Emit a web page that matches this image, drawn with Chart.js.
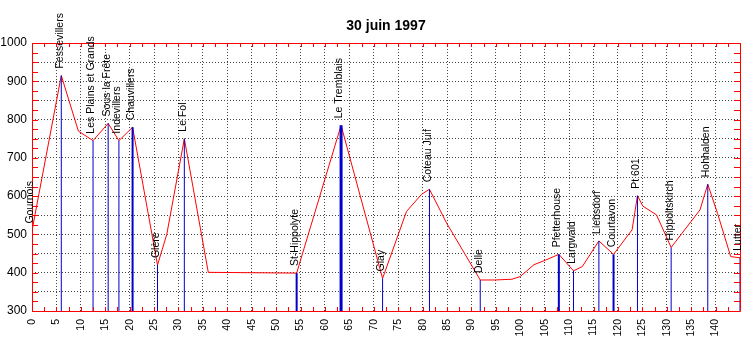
<!DOCTYPE html>
<html>
<head>
<meta charset="utf-8">
<script src="https://cdn.jsdelivr.net/npm/chart.js@4"></script>
<style>
body { margin: 0; background: #fff; }
#wrap { width: 747px; height: 343px; }
</style>
</head>
<body>
<div id="wrap"><canvas id="profileChart"></canvas></div>
<script>
// route profile (km, altitude)
var profileKm  = [0, 6.0, 9.5, 12.5, 15.6, 17.8, 20.6, 25.7, 27.6, 31.2, 36.1, 54.2, 63.3, 71.8, 76.7, 79.8, 81.4, 84.9, 91.8, 94.8, 98.3, 100.0, 102.8, 105.2, 107.9, 110.9, 112.7, 116.1, 119.1, 122.9, 124.0, 125.1, 127.9, 130.9, 136.8, 138.4, 140.4, 143.1, 145];
var profileAlt = [510, 915, 770, 745, 790, 745, 780, 420, 500, 750, 401, 399, 785, 385, 560, 605, 618, 530, 381, 381, 383, 390, 421, 433, 448, 405, 416, 483, 448, 512, 601, 574, 551, 466, 564, 631, 555, 442, 439];

// named places
var placeNames = ['Gournois', 'Fessevillers', 'Les Plains et Grands', 'Sous la Frête', 'Indevillers', 'Chauvillers', 'Glère', 'Le Fol', 'St-Hippolyte', 'Le Tremblais', 'Glay', 'Coteau Juif', 'Delle', 'Pfetterhouse', 'Largwald', 'Liebsdorf', 'Courtavon', 'Pt 601', 'Hippoltskirch', 'Hohhalden', 'Lutter'];
var placeKm  = [0, 6.0, 12.5, 15.6, 17.8, 20.6, 25.7, 31.2, 54.2, 63.3, 71.8, 81.4, 91.8, 107.9, 110.9, 116.1, 119.1, 124.0, 130.9, 138.4, 145];
var placeAlt = [510, 915, 745, 790, 745, 780, 420, 750, 399, 785, 385, 618, 381, 448, 405, 483, 448, 601, 466, 631, 439];

var chartTitle = '30 juin 1997';
var xMin = 0, xMax = 145, yMin = 300, yMax = 1000;

// line widths for the heavier markers
var heavyLines = { 'Chauvillers': 2, 'St-Hippolyte': 2, 'Le Tremblais': 3, 'Pfetterhouse': 2, 'Courtavon': 2 };

var RED = '#ff0000';
var BLUE = '#0000cc';

function buildDatasets() {
    var sets = [];
    var pts = [];
    for (var i = 0; i < profileKm.length; i++) {
        pts.push({ x: profileKm[i], y: profileAlt[i] });
    }
    sets.push({
        data: pts,
        showLine: true,
        borderColor: RED,
        borderWidth: 1,
        pointRadius: 0,
        order: 1
    });
    for (var j = 0; j < placeNames.length; j++) {
        sets.push({
            data: [{ x: placeKm[j], y: yMin }, { x: placeKm[j], y: placeAlt[j] }],
            showLine: true,
            borderColor: BLUE,
            borderWidth: heavyLines[placeNames[j]] || 1,
            pointRadius: 0,
            order: 0
        });
    }
    return sets;
}

var framePlugin = {
    id: 'frame',
    afterDraw: function(chart) {
        var ctx = chart.ctx;
        var a = chart.chartArea;
        var xs = chart.scales.x, ys = chart.scales.y;
        ctx.save();

        // red frame and inward ticks
        ctx.strokeStyle = RED;
        ctx.lineWidth = 1;
        ctx.beginPath();
        ctx.rect(Math.round(a.left) + 0.5, Math.round(a.top) + 0.5, Math.round(a.right - a.left), Math.round(a.bottom - a.top));
        for (var v = xMin; v <= xMax; v += 2.5) {
            var px = Math.round(xs.getPixelForValue(v)) + 0.5;
            ctx.moveTo(px, a.bottom); ctx.lineTo(px, a.bottom - 4);
            ctx.moveTo(px, a.top); ctx.lineTo(px, a.top + 4);
        }
        for (var w = yMin; w <= yMax; w += 25) {
            var py = Math.round(ys.getPixelForValue(w)) + 0.5;
            ctx.moveTo(a.left, py); ctx.lineTo(a.left + 6, py);
            ctx.moveTo(a.right, py); ctx.lineTo(a.right - 6, py);
        }
        ctx.stroke();

        // place names, rotated, above each marker
        ctx.fillStyle = '#000';
        ctx.font = '10.5px "Liberation Sans", Arial, sans-serif';
        ctx.textAlign = 'left';
        ctx.textBaseline = 'middle';
        for (var i = 0; i < placeNames.length; i++) {
            var lx = xs.getPixelForValue(placeKm[i]) - 1.5;
            var ly = ys.getPixelForValue(placeAlt[i]) - 7;
            ctx.save();
            ctx.translate(lx, ly);
            ctx.rotate(-Math.PI / 2);
            ctx.fillText(placeNames[i], 0, 0);
            ctx.restore();
        }

        // title
        ctx.font = 'bold 14px "Liberation Sans", Arial, sans-serif';
        ctx.textAlign = 'center';
        ctx.textBaseline = 'alphabetic';
        ctx.fillText(chartTitle, (a.left + a.right) / 2, 30);
        ctx.restore();
    }
};

function renderChart() {
    var ctx = document.getElementById('profileChart').getContext('2d');
    Chart.defaults.font.family = '"Liberation Sans", Arial, sans-serif';
    Chart.defaults.color = '#000';
    var myChart = new Chart(ctx, {
        type: 'scatter',
        data: { datasets: buildDatasets() },
        options: {
            responsive: true,
            maintainAspectRatio: false,
            animation: false,
            devicePixelRatio: 1,
            layout: { padding: { top: 43, right: 7, left: 0, bottom: 0 } },
            plugins: {
                legend: { display: false },
                tooltip: { enabled: false }
            },
            scales: {
                x: {
                    type: 'linear',
                    min: xMin,
                    max: xMax,
                    afterFit: function(s) { s.height = 32; s.paddingLeft = 0; s.paddingRight = 0; },
                    border: { display: false, dash: [1, 2] },
                    grid: { color: '#444', drawTicks: false },
                    ticks: {
                        stepSize: 5,
                        autoSkip: false,
                        minRotation: 90,
                        maxRotation: 90,
                        padding: 8,
                        font: { size: 10.5 },
                        callback: function(v) { return v >= xMax ? '' : v; }
                    }
                },
                y: {
                    min: yMin,
                    max: yMax,
                    afterFit: function(s) { s.width = 32; s.paddingTop = 0; s.paddingBottom = 0; },
                    border: { display: false, dash: [1, 2] },
                    grid: { color: '#444', drawTicks: false },
                    ticks: {
                        stepSize: 50,
                        autoSkip: false,
                        padding: 5,
                        font: { size: 12 },
                        callback: function(v) { return v % 100 === 0 ? v : ''; }
                    }
                }
            }
        },
        plugins: [framePlugin]
    });
}

renderChart();
</script>
</body>
</html>
